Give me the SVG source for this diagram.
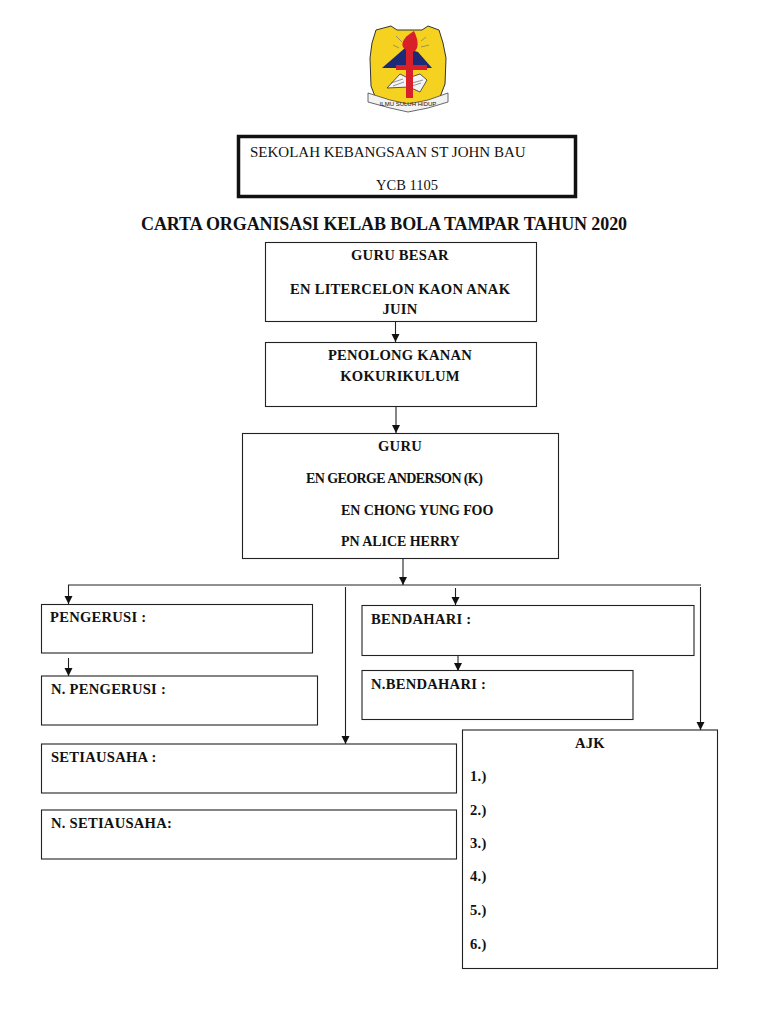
<svg xmlns="http://www.w3.org/2000/svg" width="768" height="1024" viewBox="0 0 768 1024">
<style>
text{font-family:"Liberation Serif","Times New Roman",serif;fill:#111;font-size:14.600px}
.b{font-weight:bold;letter-spacing:.25px}
.box{fill:#fff;stroke:#222;stroke-width:1.1}
.c{fill:none;stroke:#222;stroke-width:1.1}
.m{text-anchor:middle}
</style>
<defs>
<marker id="a" markerUnits="userSpaceOnUse" markerWidth="9" markerHeight="9" refX="8" refY="4" orient="auto"><path d="M0 0L8 4L0 8Z" fill="#111"/></marker>
</defs>
<rect width="768" height="1024" fill="#fff"/>
<g id="logo">
<path d="M372 43 L376 30 L391 26 L397 30 L422 30 L428 26 L439 30 L443 43 L446 58 L445 84 L440 97 L426 104 L408 110 L390 104 L376 99 L371 86 L370 58Z" fill="#f5d21f" stroke="#333" stroke-width="1"/>
<path d="M382 68 L405 48 L418 52 L432 68Z" fill="#1c2a78"/>
<path d="M387 88 L400 74 L408 78 L420 74 L427 80 L420 92 L409 87Z" fill="#f4f4f4" stroke="#333" stroke-width=".8"/>
<path d="M391 83L403 79M393 86L404 82M412 83L423 80M412 86L421 83" stroke="#555" stroke-width=".6"/>
<path d="M406 50 C399 46 402 38 414 31 C419 41 419 50 413 52Z" fill="#d8202a"/>
<path d="M406 50H413V65H427V70H413V98H406V70H396V65H406Z" fill="#d8202a"/>
<g stroke="#777" stroke-width=".7"><path d="M393 45L399 48M396 36L402 42M421 41L426 37M421 47L429 45"/></g>
<path d="M368 93 L390 100 L408 104 L428 100 L448 93 L448 102 L428 108 L408 112 L390 108 L368 102Z" fill="#f2f2f2" stroke="#444" stroke-width=".8"/>
<text x="408" y="106" class="m" style="font-family:'Liberation Sans',sans-serif;font-size:6px">ILMU SULUH HIDUP</text>
</g>
<g id="connectors">
<path class="c" marker-end="url(#a)" d="M395.500 322V342"/>
<path class="c" marker-end="url(#a)" d="M396 407V433"/>
<path class="c" marker-end="url(#a)" d="M403 559V585"/>
<path class="c" d="M68 585H701"/>
<path class="c" marker-end="url(#a)" d="M68.500 585V604"/>
<path class="c" marker-end="url(#a)" d="M68.500 658V676"/>
<path class="c" marker-end="url(#a)" d="M345.500 587V744"/>
<path class="c" marker-end="url(#a)" d="M455.500 588V605"/>
<path class="c" marker-end="url(#a)" d="M458 656V671"/>
<path class="c" marker-end="url(#a)" d="M700.500 587V730"/>
</g>
<g id="school"><rect x="238.500" y="136.500" width="337" height="60" fill="#fff" stroke="#111" stroke-width="3.500"/>
<text x="250" y="157" style="font-size:15px">SEKOLAH KEBANGSAAN ST JOHN BAU</text>
<text x="376" y="190" style="font-size:14.500px">YCB 1105</text></g>
<text id="title" x="384" y="229.500" class="b m" style="font-size:18px;letter-spacing:-.1px">CARTA ORGANISASI KELAB BOLA TAMPAR TAHUN 2020</text>
<g id="guru-besar"><rect class="box" x="265.500" y="242.500" width="271" height="79"/>
<text x="351" y="260" class="b">GURU BESAR</text>
<text x="290" y="294" class="b">EN LITERCELON KAON ANAK</text>
<text x="400" y="314" class="b m">JUIN</text></g>
<g id="penolong"><rect class="box" x="265.500" y="342.500" width="271" height="64"/>
<text x="400" y="360" class="b m">PENOLONG KANAN</text>
<text x="400" y="381" class="b m">KOKURIKULUM</text></g>
<g id="guru"><rect class="box" x="242.500" y="433.500" width="316" height="125"/>
<text x="400" y="451" class="b m">GURU</text>
<text x="306" y="483" class="b" style="font-size:14px;letter-spacing:-.6px">EN GEORGE ANDERSON (K)</text>
<text x="341" y="515" class="b" style="font-size:14px;letter-spacing:-.1px">EN CHONG YUNG FOO</text>
<text x="341" y="546" class="b" style="font-size:14px;letter-spacing:-.05px">PN ALICE HERRY</text></g>
<g id="pengerusi"><rect class="box" x="41.500" y="604.500" width="271" height="48.500"/><text x="50" y="622" class="b">PENGERUSI :</text></g>
<g id="n-pengerusi"><rect class="box" x="41.500" y="676" width="276" height="49"/><text x="51" y="694" class="b">N. PENGERUSI :</text></g>
<g id="setiausaha"><rect class="box" x="41.500" y="744" width="415" height="49"/><text x="51" y="762" class="b">SETIAUSAHA :</text></g>
<g id="n-setiausaha"><rect class="box" x="41.500" y="810" width="415" height="49"/><text x="51" y="828" class="b">N. SETIAUSAHA:</text></g>
<g id="bendahari"><rect class="box" x="362" y="605.500" width="332" height="50"/><text x="371" y="624" class="b">BENDAHARI :</text></g>
<g id="n-bendahari"><rect class="box" x="362" y="670.500" width="271" height="49"/><text x="371" y="689" class="b">N.BENDAHARI :</text></g>
<g id="ajk"><rect class="box" x="462.500" y="730" width="255" height="238.500"/>
<text x="590" y="748" class="b m">AJK</text>
<text x="470" y="781" class="b">1.)</text>
<text x="470" y="815" class="b">2.)</text>
<text x="470" y="848" class="b">3.)</text>
<text x="470" y="881" class="b">4.)</text>
<text x="470" y="915" class="b">5.)</text>
<text x="470" y="949" class="b">6.)</text></g>
</svg>
